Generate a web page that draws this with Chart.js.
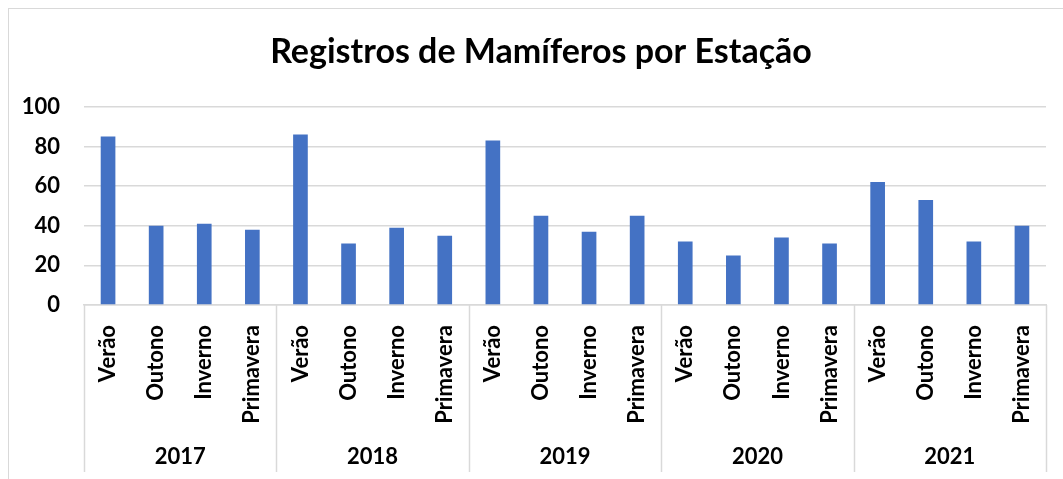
<!DOCTYPE html>
<html lang="pt">
<head>
<meta charset="utf-8">
<script src="https://cdn.jsdelivr.net/npm/chart.js@4.4.1/dist/chart.umd.min.js"></script>
<style>
  body { margin: 0; background: #fff; overflow: hidden; }
  .frame { position: absolute; left: 8px; top: 8px; width: 1100px; height: 520px; border: 1px solid #d9d9d9; }
  #wrap { position: absolute; left: 0; top: 0; width: 1063px; height: 479px; }
</style>
</head>
<body>
<div class="frame"></div>
<div id="wrap"><canvas id="chart" width="1063" height="479"></canvas></div>
<script>
// ─── Dados ───
const years   = ['2017', '2018', '2019', '2020', '2021'];
const seasons = ['Verão', 'Outono', 'Inverno', 'Primavera'];
const registros = [
  85, 40, 41, 38,   // 2017
  86, 31, 39, 35,   // 2018
  83, 45, 37, 45,   // 2019
  32, 25, 34, 31,   // 2020
  62, 53, 32, 40,   // 2021
];
const yTicks = [0, 20, 40, 60, 80, 100];

const labels = years.flatMap(() => seasons);

const FONT = "Lato, 'Open Sans', sans-serif";
const GRID = '#d9d9d9';

// ─── Eixo de anos (segundo nível) ───
const yearAxis = {
  id: 'yearAxis',
  afterLayout(chart) {
    // centre le titre comme dans l'original (décalé vers la droite)
    if (chart.titleBlock) chart.titleBlock.left += 36;
  },
  afterDraw(chart) {
    const { ctx, chartArea } = chart;
    const x = chart.scales.x;
    const per = seasons.length;
    const bottom = 472;
    ctx.save();
    ctx.strokeStyle = GRID;
    ctx.lineWidth = 1.5;
    const bounds = [chartArea.left];
    for (let i = 1; i < years.length; i++) {
      bounds.push((x.getPixelForValue(i * per - 1) + x.getPixelForValue(i * per)) / 2);
    }
    bounds.push(chartArea.right);
    bounds.forEach(b => {
      ctx.beginPath();
      ctx.moveTo(Math.round(b) + 0.5, chartArea.bottom);
      ctx.lineTo(Math.round(b) + 0.5, bottom);
      ctx.stroke();
    });
    ctx.fillStyle = '#000';
    ctx.font = `bold 22px ${FONT}`;
    ctx.textAlign = 'center';
    ctx.textBaseline = 'middle';
    years.forEach((y, i) => {
      ctx.fillText(y, (bounds[i] + bounds[i + 1]) / 2, 457);
    });
    ctx.restore();
  }
};

new Chart(document.getElementById('chart'), {
  type: 'bar',
  data: {
    labels,
    datasets: [{
      label: 'Registros',
      data: registros,
      backgroundColor: '#4472c4',
      borderWidth: 0,
      barPercentage: 0.305,
      categoryPercentage: 1,
    }]
  },
  options: {
    responsive: false,
    animation: false,
    devicePixelRatio: 1,
    layout: { autoPadding: false, padding: { left: 0, right: 17, top: 0, bottom: 0 } },
    plugins: {
      legend: { display: false },
      tooltip: { enabled: false },
      title: {
        display: true,
        text: 'Registros de Mamíferos por Estação',
        color: '#000',
        font: { family: FONT, size: 34, weight: 'bold', lineHeight: 1.2 },
        padding: { top: 32, bottom: 34 },
      }
    },
    scales: {
      x: {
        grid: { display: false },
        border: { display: true, color: GRID, width: 1.5 },
        ticks: {
          color: '#000',
          font: { family: FONT, size: 22, weight: 'bold' },
          maxRotation: 90, minRotation: 90,
          padding: 12,
          autoSkip: false,
        },
        afterFit: s => { s.height = 174; }
      },
      y: {
        min: 0, max: 100,
        afterBuildTicks: s => { s.ticks = yTicks.map(v => ({ value: v })); },
        grid: { color: GRID, lineWidth: 1.5, drawTicks: false },
        border: { display: false },
        ticks: {
          color: '#000',
          padding: 24,
          font: { family: FONT, size: 22, weight: 'bold' },
        },
        afterFit: s => { s.width = 84; }
      }
    }
  },
  plugins: [yearAxis]
});
</script>
</body>
</html>
